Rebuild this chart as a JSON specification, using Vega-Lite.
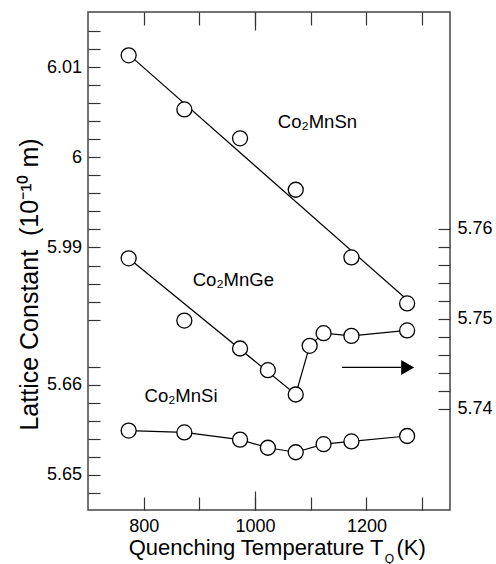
{
  "$schema": "https://vega.github.io/schema/vega-lite/v6.json",
  "width": 362,
  "height": 498,
  "autosize": {"type": "none"},
  "padding": {"left": 88, "top": 12, "right": 46, "bottom": 54},
  "background": "white",
  "config": {
    "view": {"stroke": "#444", "strokeWidth": 1.5},
    "font": "Liberation Sans",
    "axis": {
      "grid": false, "domain": false, "labelFont": "Liberation Sans", "titleFont": "Liberation Sans",
      "labelColor": "#000", "titleColor": "#000", "tickColor": "#333", "tickWidth": 1.2,
      "labelFontSize": 18, "titleFontWeight": "normal"
    }
  },
  "datasets": {
    "points": [
      {"alloy": "Sn", "T": 773, "a": 6.0113}, {"alloy": "Sn", "T": 873, "a": 6.0053}, {"alloy": "Sn", "T": 973, "a": 6.0021},
      {"alloy": "Sn", "T": 1073, "a": 5.9964}, {"alloy": "Sn", "T": 1173, "a": 5.9889}, {"alloy": "Sn", "T": 1273, "a": 5.9838},
      {"alloy": "Ge", "T": 773, "a": 5.7567}, {"alloy": "Ge", "T": 873, "a": 5.7498}, {"alloy": "Ge", "T": 973, "a": 5.7467},
      {"alloy": "Ge", "T": 1023, "a": 5.7443}, {"alloy": "Ge", "T": 1073, "a": 5.7416}, {"alloy": "Ge", "T": 1098, "a": 5.7470},
      {"alloy": "Ge", "T": 1123, "a": 5.7484}, {"alloy": "Ge", "T": 1173, "a": 5.7481}, {"alloy": "Ge", "T": 1273, "a": 5.7487},
      {"alloy": "Si", "T": 773, "a": 5.6549}, {"alloy": "Si", "T": 873, "a": 5.6547}, {"alloy": "Si", "T": 973, "a": 5.6539},
      {"alloy": "Si", "T": 1023, "a": 5.6530}, {"alloy": "Si", "T": 1073, "a": 5.6525}, {"alloy": "Si", "T": 1123, "a": 5.6534},
      {"alloy": "Si", "T": 1173, "a": 5.6537}, {"alloy": "Si", "T": 1273, "a": 5.6543}
    ],
    "lines": [
      {"alloy": "Sn", "T": 773, "a": 6.0114}, {"alloy": "Sn", "T": 1273, "a": 5.9842},
      {"alloy": "Ge", "T": 773, "a": 5.7567}, {"alloy": "Ge", "T": 1073, "a": 5.7416}, {"alloy": "Ge", "T": 1098, "a": 5.7470},
      {"alloy": "Ge", "T": 1123, "a": 5.7484}, {"alloy": "Ge", "T": 1173, "a": 5.7481}, {"alloy": "Ge", "T": 1273, "a": 5.7487},
      {"alloy": "Si", "T": 773, "a": 5.6549}, {"alloy": "Si", "T": 873, "a": 5.6547}, {"alloy": "Si", "T": 973, "a": 5.6539},
      {"alloy": "Si", "T": 1023, "a": 5.6530}, {"alloy": "Si", "T": 1073, "a": 5.6525}, {"alloy": "Si", "T": 1123, "a": 5.6534},
      {"alloy": "Si", "T": 1173, "a": 5.6537}, {"alloy": "Si", "T": 1273, "a": 5.6543}
    ],
    "labels": [
      {"alloy": "Sn", "T": 1112, "a": 6.0039, "text": "Co₂MnSn"},
      {"alloy": "Ge", "T": 961, "a": 5.7543, "text": "Co₂MnGe"},
      {"alloy": "Si", "T": 867, "a": 5.6587, "text": "Co₂MnSi"}
    ],
    "arrow": [
      {"T": 1156, "T2": 1262, "Thead": 1274, "a": 5.7446}
    ]
  },
  "resolve": {"scale": {"y": "independent"}, "axis": {"x": "independent", "y": "independent"}},
  "layer": [
    {
      "data": {"name": "lines"},
      "transform": [{"filter": "datum.alloy === 'Sn'"}],
      "mark": {"type": "line", "color": "#000", "strokeWidth": 1.2},
      "encoding": {
        "x": {"field": "T", "type": "quantitative", "scale": {"domain": [700, 1350], "nice": false, "zero": false},
          "axis": {"orient": "top", "values": [800, 900, 1000, 1100, 1200, 1300], "tickSize": -13, "labels": false, "title": null}},
        "y": {"field": "a", "type": "quantitative", "scale": {"domain": [5.9609, 6.0161], "nice": false, "zero": false}, "axis": null}
      }
    },
    {
      "data": {"name": "lines"},
      "transform": [{"filter": "datum.alloy === 'Ge'"}],
      "mark": {"type": "line", "color": "#000", "strokeWidth": 1.2},
      "encoding": {
        "x": {"field": "T", "type": "quantitative", "scale": {"domain": [700, 1350], "nice": false, "zero": false},
          "axis": {"orient": "bottom", "values": [1000], "tickSize": -19, "labels": false, "title": "Q",
            "titleFontSize": 12, "titleX": 301, "titleY": 52, "titleAlign": "center", "titleBaseline": "alphabetic", "titleAngle": 0}},
        "y": {"field": "a", "type": "quantitative", "scale": {"domain": [5.7288, 5.784], "nice": false, "zero": false}, "axis": null}
      }
    },
    {
      "data": {"name": "lines"},
      "transform": [{"filter": "datum.alloy === 'Si'"}],
      "mark": {"type": "line", "color": "#000", "strokeWidth": 1.2},
      "encoding": {
        "x": {"field": "T", "type": "quantitative", "scale": {"domain": [700, 1350], "nice": false, "zero": false},
          "axis": {"orient": "top", "values": [1000], "tickSize": -18, "labels": false, "title": null}},
        "y": {"field": "a", "type": "quantitative", "scale": {"domain": [5.6461, 5.7013], "nice": false, "zero": false}, "axis": null}
      }
    },
    {
      "data": {"name": "points"},
      "transform": [{"filter": "datum.alloy === 'Sn'"}],
      "mark": {"type": "point", "shape": "circle", "filled": true, "fill": "white", "stroke": "#000", "strokeWidth": 1.3, "size": 225, "opacity": 1},
      "encoding": {
        "x": {"field": "T", "type": "quantitative", "scale": {"domain": [700, 1350], "nice": false, "zero": false},
          "axis": {"orient": "bottom", "values": [800, 900, 1000, 1100, 1200, 1300], "tickSize": -13, "labelPadding": 20,
            "labelExpr": "datum.value % 200 == 0 ? format(datum.value, 'd') : ''",
            "title": "Quenching Temperature T", "titleFontSize": 22, "titleX": 295, "titleY": 44,
            "titleAlign": "right", "titleBaseline": "alphabetic", "titleAngle": 0}},
        "y": {"field": "a", "type": "quantitative", "scale": {"domain": [5.9609, 6.0161], "nice": false, "zero": false},
          "axis": {"orient": "left", "values": [5.982, 5.984, 5.986, 5.988, 5.99, 5.992, 5.994, 5.996, 5.998, 6.0, 6.002, 6.004, 6.006, 6.008, 6.01, 6.012, 6.014],
            "tickSize": -12, "labelPadding": 18.5,
            "labelExpr": "abs(datum.value*100 - round(datum.value*100)) < 0.001 ? format(datum.value, '.3~r') : ''",
            "title": "Lattice Constant\u00a0\u00a0(10⁻¹⁰ m)", "titleFontSize": 25, "titleX": -51, "titleY": 272,
            "titleAngle": -90, "titleAlign": "center", "titleBaseline": "alphabetic"}}
      }
    },
    {
      "data": {"name": "points"},
      "transform": [{"filter": "datum.alloy === 'Ge'"}],
      "mark": {"type": "point", "shape": "circle", "filled": true, "fill": "white", "stroke": "#000", "strokeWidth": 1.3, "size": 225, "opacity": 1},
      "encoding": {
        "x": {"field": "T", "type": "quantitative", "scale": {"domain": [700, 1350], "nice": false, "zero": false}, "axis": null},
        "y": {"field": "a", "type": "quantitative", "scale": {"domain": [5.7288, 5.784], "nice": false, "zero": false},
          "axis": {"orient": "right", "values": [5.74, 5.742, 5.744, 5.746, 5.748, 5.75, 5.752, 5.754, 5.756, 5.758, 5.76],
            "tickSize": -12, "labelPadding": 19,
            "labelExpr": "abs(datum.value*100 - round(datum.value*100)) < 0.001 ? format(datum.value, '.3~r') : ''",
            "title": null}}
      }
    },
    {
      "data": {"name": "points"},
      "transform": [{"filter": "datum.alloy === 'Si'"}],
      "mark": {"type": "point", "shape": "circle", "filled": true, "fill": "white", "stroke": "#000", "strokeWidth": 1.3, "size": 225, "opacity": 1},
      "encoding": {
        "x": {"field": "T", "type": "quantitative", "scale": {"domain": [700, 1350], "nice": false, "zero": false}, "axis": null},
        "y": {"field": "a", "type": "quantitative", "scale": {"domain": [5.6461, 5.7013], "nice": false, "zero": false},
          "axis": {"orient": "left", "values": [5.648, 5.65, 5.652, 5.654, 5.656, 5.658, 5.66, 5.662],
            "tickSize": -12, "labelPadding": 18.5,
            "labelExpr": "abs(datum.value*100 - round(datum.value*100)) < 0.001 ? format(datum.value, '.3~r') : ''",
            "title": null}}
      }
    },
    {
      "data": {"name": "labels"},
      "transform": [{"filter": "datum.alloy === 'Sn'"}],
      "mark": {"type": "text", "fontSize": 18.5, "font": "Liberation Sans", "color": "#000", "align": "center", "baseline": "middle"},
      "encoding": {
        "x": {"field": "T", "type": "quantitative", "scale": {"domain": [700, 1350], "nice": false, "zero": false}, "axis": null},
        "y": {"field": "a", "type": "quantitative", "scale": {"domain": [5.9609, 6.0161], "nice": false, "zero": false}, "axis": null},
        "text": {"field": "text"}
      }
    },
    {
      "data": {"name": "labels"},
      "transform": [{"filter": "datum.alloy === 'Ge'"}],
      "mark": {"type": "text", "fontSize": 18.5, "font": "Liberation Sans", "color": "#000", "align": "center", "baseline": "middle"},
      "encoding": {
        "x": {"field": "T", "type": "quantitative", "scale": {"domain": [700, 1350], "nice": false, "zero": false}, "axis": null},
        "y": {"field": "a", "type": "quantitative", "scale": {"domain": [5.7288, 5.784], "nice": false, "zero": false}, "axis": null},
        "text": {"field": "text"}
      }
    },
    {
      "data": {"name": "labels"},
      "transform": [{"filter": "datum.alloy === 'Si'"}],
      "mark": {"type": "text", "fontSize": 18.5, "font": "Liberation Sans", "color": "#000", "align": "center", "baseline": "middle"},
      "encoding": {
        "x": {"field": "T", "type": "quantitative", "scale": {"domain": [700, 1350], "nice": false, "zero": false}, "axis": null},
        "y": {"field": "a", "type": "quantitative", "scale": {"domain": [5.6461, 5.7013], "nice": false, "zero": false}, "axis": null},
        "text": {"field": "text"}
      }
    },
    {
      "data": {"name": "arrow"},
      "mark": {"type": "rule", "color": "#000", "strokeWidth": 1.3},
      "encoding": {
        "x": {"field": "T", "type": "quantitative", "scale": {"domain": [700, 1350], "nice": false, "zero": false},
          "axis": {"orient": "bottom", "ticks": false, "labels": false, "title": "(K)", "titleFontSize": 22,
            "titleX": 308, "titleY": 44, "titleAlign": "left", "titleBaseline": "alphabetic", "titleAngle": 0}},
        "x2": {"field": "T2"},
        "y": {"field": "a", "type": "quantitative", "scale": {"domain": [5.7288, 5.784], "nice": false, "zero": false}, "axis": null}
      }
    },
    {
      "data": {"name": "arrow"},
      "mark": {"type": "point", "shape": "triangle-right", "filled": true, "color": "#000", "size": 225, "opacity": 1},
      "encoding": {
        "x": {"field": "Thead", "type": "quantitative", "scale": {"domain": [700, 1350], "nice": false, "zero": false}, "axis": null},
        "y": {"field": "a", "type": "quantitative", "scale": {"domain": [5.7288, 5.784], "nice": false, "zero": false}, "axis": null}
      }
    }
  ]
}
